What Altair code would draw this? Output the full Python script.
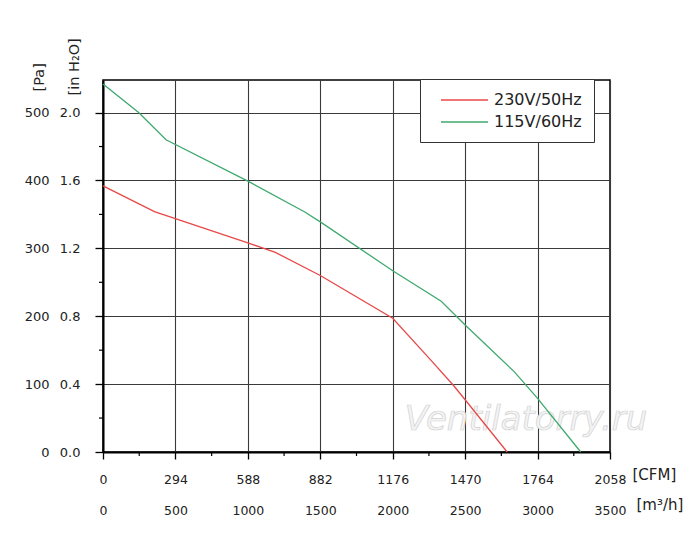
import json
import altair as alt
import pandas as pd

# ---- data ----
flow_230 = [0, 355, 1000, 1190, 1500, 2000, 2260, 2420, 2500, 2790]
pa_230 = [392, 354, 308, 294, 260, 197, 136, 98, 77, 0]
flow_115 = [0, 246, 435, 1000, 1390, 1500, 2000, 2335, 2500, 2840, 3000, 3298]
pa_115 = [542, 500, 460, 399, 354, 339, 267, 222, 187, 118, 79, 0]
series_names = ["230V/50Hz", "115V/60Hz"]
series_colors = ["#e84848", "#3fa96e"]

m3h_ticks = [0, 500, 1000, 1500, 2000, 2500, 3000, 3500]
cfm_labels = ["0", "294", "588", "882", "1176", "1470", "1764", "2058"]
m3h_minor = [250, 750, 1250, 1750, 2250, 2750, 3250]
pa_ticks = [0, 100, 200, 300, 400, 500]
inh2o_labels = ["0.0", "0.4", "0.8", "1.2", "1.6", "2.0"]
pa_minor = [50, 150, 250, 350, 450]
x_domain = [0, 3500]
y_domain = [0, 548]
watermark = "Ventilatorry.ru"

curves = pd.concat([
    pd.DataFrame({"flow": flow_230, "pa": pa_230, "series": series_names[0]}),
    pd.DataFrame({"flow": flow_115, "pa": pa_115, "series": series_names[1]}),
], ignore_index=True)

FONT = "DejaVu Sans"
xs = alt.Scale(domain=x_domain, nice=False, zero=False)
ys = alt.Scale(domain=y_domain, nice=False, zero=False)

cfm_label_expr = "{}[indexof({}, datum.value)]".format(
    json.dumps(cfm_labels), json.dumps(m3h_ticks))
inh_label_expr = "{}[indexof({}, datum.value)]".format(
    json.dumps(inh2o_labels), json.dumps(pa_ticks))

m3h_axis = alt.Axis(
    values=m3h_ticks, format="d", orient="bottom", labelFlush=False,
    tickSize=7, tickWidth=1.3, labelPadding=45, labelFontSize=12.5,
    grid=True, domainWidth=2,
    title="[m³/h]", titleX=533, titleY=52, titleAlign="left",
    titleBaseline="middle", titleFontSize=15,
)
cfm_axis = alt.Axis(
    values=m3h_ticks, orient="bottom", labelExpr=cfm_label_expr,
    labelFlush=False,
    ticks=False, domain=False, grid=False, labelPadding=21,
    labelFontSize=12.5,
    title="[CFM]", titleX=529, titleY=22, titleAlign="left",
    titleBaseline="middle", titleFontSize=15,
)
pa_axis = alt.Axis(
    values=pa_ticks, orient="left", tickSize=8, tickWidth=1.3,
    labelFlush=False,
    labelPadding=46, grid=True, domainWidth=2,
    title="[Pa]", titleAngle=270, titleAlign="left", titleBaseline="middle",
    titleX=-64, titleY=11,
)
inh_axis = alt.Axis(
    values=pa_ticks, orient="left", labelExpr=inh_label_expr,
    labelFlush=False,
    ticks=False, domain=False, grid=False, labelPadding=23,
    title="[in H₂O]", titleAngle=270, titleAlign="left", titleBaseline="middle",
    titleX=-29, titleY=15,
)

wm = alt.Chart(pd.DataFrame({"t": [watermark]})).mark_text(
    font=FONT, fontStyle="italic", fontSize=34, fill="#f4f4f4",
    stroke="#d2d2d2", strokeWidth=0.7,
).encode(x=alt.value(423), y=alt.value(340), text="t:N")

lines = alt.Chart(curves).mark_line(strokeWidth=1.3).encode(
    x=alt.X("flow:Q", scale=xs, axis=m3h_axis),
    y=alt.Y("pa:Q", scale=ys, axis=pa_axis),
    color=alt.Color(
        "series:N",
        scale=alt.Scale(domain=series_names, range=series_colors),
        legend=alt.Legend(
            orient="none", legendX=317, legendY=-1, title=None,
            symbolType="M-2.94,0H2.94", symbolSize=256, symbolStrokeWidth=1.5,
            symbolOffset=23.5, labelFontSize=16, labelFont=FONT,
            labelColor="#222", labelOffset=20.5, rowPadding=5, padding=12,
            strokeColor="#333", fillColor="white",
        ),
    ),
)

minor_x = alt.Chart(pd.DataFrame({"flow": m3h_minor})).mark_rule(
    color="black", strokeWidth=1.2
).encode(
    x=alt.X("flow:Q", scale=xs, axis=cfm_axis),
    y=alt.value(372), y2=alt.value(376),
)

minor_y = alt.Chart(pd.DataFrame({"pa": pa_minor})).mark_rule(
    color="black", strokeWidth=1.2
).encode(
    y=alt.Y("pa:Q", scale=ys, axis=inh_axis),
    x=alt.value(-4), x2=alt.value(0),
)

chart = alt.layer(wm, lines, minor_x, minor_y).resolve_axis(
    x="independent", y="independent"
).properties(
    width=507, height=372,
    autosize=alt.AutoSizeParams(type="none"),
    padding={"left": 95, "top": 72, "right": 82, "bottom": 86},
    background="white",
).configure_view(
    stroke="black", strokeWidth=1.5
).configure_axis(
    labelFont=FONT, labelFontSize=13, labelColor="#222",
    titleFont=FONT, titleFontSize=14.5, titleColor="#222",
    titleFontWeight="normal", tickColor="black", domainColor="black",
    gridColor="#3a3a3a", gridWidth=1.1, gridOpacity=1,
)

chart.save("out.html", embed_options={"renderer": "svg", "actions": False})
